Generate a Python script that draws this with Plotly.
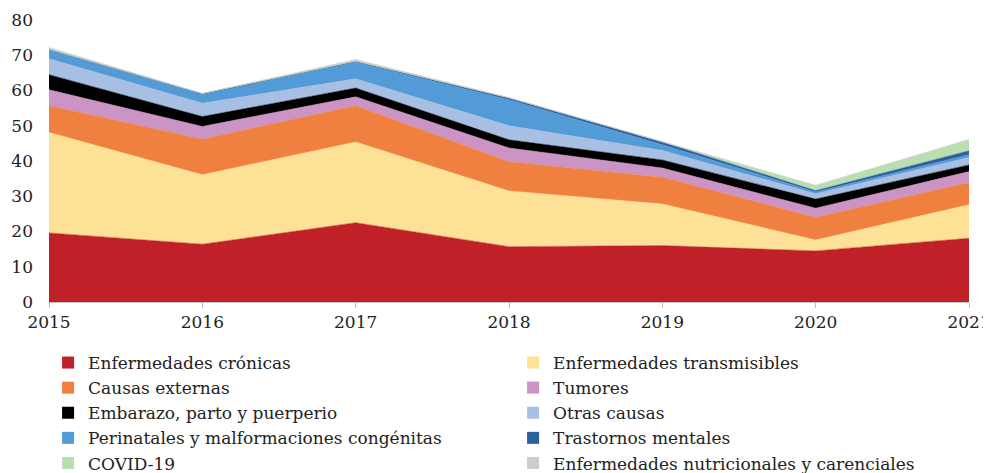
import plotly.graph_objects as go

years = [2015, 2016, 2017, 2018, 2019, 2020, 2021]

cronicas = [19.6, 16.4, 22.5, 15.7, 16.0, 14.5, 18.1]
transmisibles = [28.5, 19.7, 22.9, 15.8, 11.8, 3.1, 9.5]
externas = [7.6, 10.1, 10.3, 8.3, 7.6, 6.4, 6.3]
tumores = [4.5, 3.6, 2.5, 3.9, 2.6, 2.6, 3.1]
embarazo = [4.3, 2.8, 2.5, 2.3, 2.3, 2.6, 1.9]
otras = [4.5, 3.8, 2.6, 4.0, 2.7, 1.5, 2.1]
perinatales = [2.6, 2.4, 4.7, 7.4, 1.6, 0.5, 0.8]
mentales = [0.1, 0.3, 0.3, 0.5, 0.8, 0.4, 1.1]
covid = [0.0, 0.0, 0.0, 0.0, 0.0, 1.4, 3.1]
nutricionales = [0.5, 0.1, 0.5, 0.1, 0.1, 0.1, 0.1]

series = [
    ("Enfermedades crónicas", cronicas, "#C02028"),
    ("Enfermedades transmisibles", transmisibles, "#FDE196"),
    ("Causas externas", externas, "#EF803F"),
    ("Tumores", tumores, "#CC93C5"),
    ("Embarazo, parto y puerperio", embarazo, "#000000"),
    ("Otras causas", otras, "#A7BFE3"),
    ("Perinatales y malformaciones congénitas", perinatales, "#529BD6"),
    ("Trastornos mentales", mentales, "#2E5FA0"),
    ("COVID-19", covid, "#B9DFB1"),
    ("Enfermedades nutricionales y carenciales", nutricionales, "#CCCCCC"),
]

FONT = "DejaVu Serif"
fig = go.Figure()
for name, vals, col in series:
    fig.add_trace(go.Scatter(
        x=years, y=vals, name=name, stackgroup="one", mode="lines",
        line=dict(width=0.5, color=col), fillcolor=col, showlegend=False,
        hoverinfo="skip"))
for name, vals, col in series:
    fig.add_trace(go.Scatter(
        x=[None], y=[None], name=name, mode="markers",
        marker=dict(symbol="square", size=15, color=col), showlegend=True))

# the page body adds an 8px offset; the figure size/margins compensate for it
BODY = 8
DIV_W, DIV_H = 991 - BODY, 487
L, R, T = 49 - BODY, 22, 20 - BODY
PLOT_BOTTOM_DIV = 302 - BODY
B = DIV_H - PLOT_BOTTOM_DIV
PLOT_H = PLOT_BOTTOM_DIV - T
LEG_BOTTOM_DIV = 473

fig.update_layout(
    width=DIV_W, height=DIV_H,
    margin=dict(l=L, r=R, t=T, b=B),
    paper_bgcolor="white", plot_bgcolor="white",
    font=dict(family=FONT, size=17, color="#222222"),
    legend=dict(orientation="h", x=-0.001,
                y=-(LEG_BOTTOM_DIV - PLOT_BOTTOM_DIV) / PLOT_H,
                xanchor="left", yanchor="bottom",
                traceorder="normal",
                entrywidth=420, entrywidthmode="pixels", itemsizing="constant",
                font=dict(family=FONT, size=17, color="#222222"),
                itemwidth=30, tracegroupgap=0),
    showlegend=True,
)
fig.update_xaxes(range=[2015, 2021], tickmode="array", tickvals=years,
                 ticktext=[str(y) for y in years], ticklabeloverflow="allow",
                 automargin=False,
                 showgrid=False, zeroline=False, showline=True, linecolor="#BFBFBF",
                 linewidth=1, ticks="outside", ticklen=5, tickcolor="#BFBFBF",
                 tickfont=dict(family=FONT, size=17, color="#222222"))
fig.update_yaxes(range=[0, 80], dtick=10, showgrid=False, zeroline=False,
                 automargin=False,
                 showline=False, ticks="", ticklabelstandoff=15,
                 tickfont=dict(family=FONT, size=17, color="#222222"))

fig.write_html("out.html")
